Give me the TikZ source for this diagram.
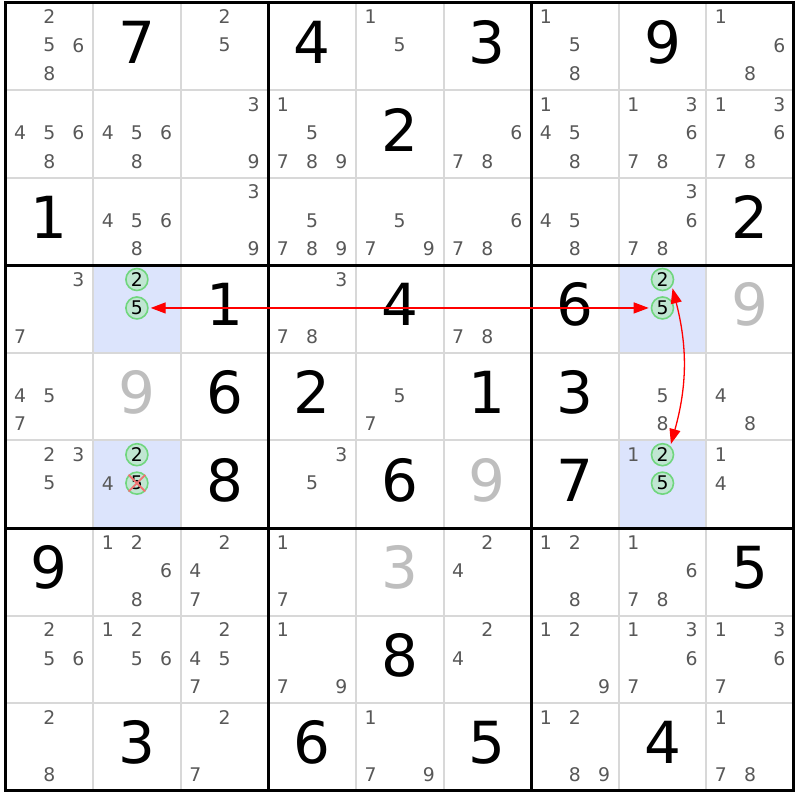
\documentclass[tikz,border=0pt]{standalone}
\usepackage{fontspec}
\setmainfont{DejaVu Sans}
\usepackage{xcolor}
\usepackage{tikz}
\usetikzlibrary{arrows.meta}

\definecolor{candgray}{RGB}{88,88,88}
\definecolor{solvedgray}{RGB}{190,190,190}
\definecolor{gridgray}{RGB}{216,216,216}
\definecolor{hlblue}{RGB}{220,228,252}
\definecolor{pickfill}{RGB}{192,230,210}
\definecolor{pickline}{RGB}{112,214,126}
\definecolor{elimred}{RGB}{240,115,115}

\begin{document}
\begin{tikzpicture}[
    x=87.6pt, y=-87.6pt,
    given/.style={inner sep=0pt, font=\fontsize{58}{58}\selectfont, text=black},
    solved/.style={given, text=solvedgray},
    cand/.style={inner sep=0pt, font=\fontsize{18.8}{19}\selectfont, text=candgray},
    pickcand/.style={circle, draw=pickline, line width=1.6pt, fill=pickfill, minimum size=22pt, inner sep=0pt, font=\fontsize{18.8}{19}\selectfont, text=black},
    cellline/.style={draw=gridgray, line width=2pt},
    boxline/.style={draw=black, line width=3pt},
    hilite/.style={fill=hlblue},
    elim/.style={draw=elimred, line width=1.8pt},
    linkarrow/.style={{Triangle[length=15pt,width=11pt]}-{Triangle[length=15pt,width=11pt]}, red, line width=1.3pt, shorten <=2pt, shorten >=2pt}
]
    \useasboundingbox (-0.0628,-0.0285) rectangle (9.0628,9.104);

    % Highlighted cells
    \fill[hilite] (1,3) rectangle (2,4);
    \fill[hilite] (1,5) rectangle (2,6);
    \fill[hilite] (7,3) rectangle (8,4);
    \fill[hilite] (7,5) rectangle (8,6);

    % Grid
    \foreach \i in {1,...,8} {
        \draw[cellline] (\i,0) -- (\i,9);
        \draw[cellline] (0,\i) -- (9,\i);
    }
    \foreach \i in {3,6} {
        \draw[boxline] (\i,0) -- (\i,9);
        \draw[boxline] (0,\i) -- (9,\i);
    }
    \draw[boxline] (0,0) rectangle (9,9);

    % Givens
    \foreach \r/\c/\v in {1/2/7, 1/4/4, 1/6/3, 1/8/9, 2/5/2, 3/1/1, 3/9/2,
        4/3/1, 4/5/4, 4/7/6, 5/3/6, 5/4/2, 5/6/1, 5/7/3, 6/3/8, 6/5/6, 6/7/7,
        7/1/9, 7/9/5, 8/5/8, 9/2/3, 9/4/6, 9/6/5, 9/8/4}
        \node[given] (g\r\c) at (\c-0.5,\r-0.55) {\v};

    % Solved
    \foreach \r/\c/\v in {4/9/9, 5/2/9, 6/6/9, 7/5/3}
        \node[solved] (s\r\c) at (\c-0.5,\r-0.55) {\v};

    % Candidates
    \foreach \r/\c/\ds in {1/1/{2,5,6,8}, 1/3/{2,5}, 1/5/{1,5}, 1/7/{1,5,8}, 1/9/{1,6,8},
        2/1/{4,5,6,8}, 2/2/{4,5,6,8}, 2/3/{3,9}, 2/4/{1,5,7,8,9}, 2/6/{6,7,8},
        2/7/{1,4,5,8}, 2/8/{1,3,6,7,8}, 2/9/{1,3,6,7,8},
        3/2/{4,5,6,8}, 3/3/{3,9}, 3/4/{5,7,8,9}, 3/5/{5,7,9}, 3/6/{6,7,8},
        3/7/{4,5,8}, 3/8/{3,6,7,8},
        4/1/{3,7}, 4/4/{3,7,8}, 4/6/{7,8},
        5/1/{4,5,7}, 5/5/{5,7}, 5/8/{5,8}, 5/9/{4,8},
        6/1/{2,3,5}, 6/2/{4}, 6/4/{3,5}, 6/8/{1}, 6/9/{1,4},
        7/2/{1,2,6,8}, 7/3/{2,4,7}, 7/4/{1,7}, 7/6/{2,4}, 7/7/{1,2,8}, 7/8/{1,6,7,8},
        8/1/{2,5,6}, 8/2/{1,2,5,6}, 8/3/{2,4,5,7}, 8/4/{1,7,9}, 8/6/{2,4},
        8/7/{1,2,9}, 8/8/{1,3,6,7}, 8/9/{1,3,6,7},
        9/1/{2,8}, 9/3/{2,7}, 9/5/{1,7,9}, 9/7/{1,2,8,9}, 9/9/{1,7,8}} {
        \foreach \d in \ds {
            \pgfmathsetmacro\cx{\c-1+0.167+0.333*mod(\d-1,3)}
            \pgfmathsetmacro\cy{\r-1+0.162+0.325*floor((\d-1)/3)}
            \node[cand] (c\r\c\d) at (\cx,\cy) {\d};
        }
    }

    % Marked candidates
    \foreach \r/\c/\d in {4/2/2, 4/2/5, 6/2/2, 6/2/5, 4/8/2, 4/8/5, 6/8/2, 6/8/5} {
        \pgfmathsetmacro\cx{\c-1+0.167+0.333*mod(\d-1,3)}
        \pgfmathsetmacro\cy{\r-1+0.162+0.325*floor((\d-1)/3)}
        \node[pickcand] (c\r\c\d) at (\cx,\cy) {\d};
    }
    \draw[elim] (c625.north west) -- (c625.south east);
    \draw[elim] (c625.north east) -- (c625.south west);

    % Links
    \draw[linkarrow] (c485) -- (c425);
    \draw[linkarrow] (c482.-36) to[bend left=15] (c682.48);
\end{tikzpicture}
\end{document}
